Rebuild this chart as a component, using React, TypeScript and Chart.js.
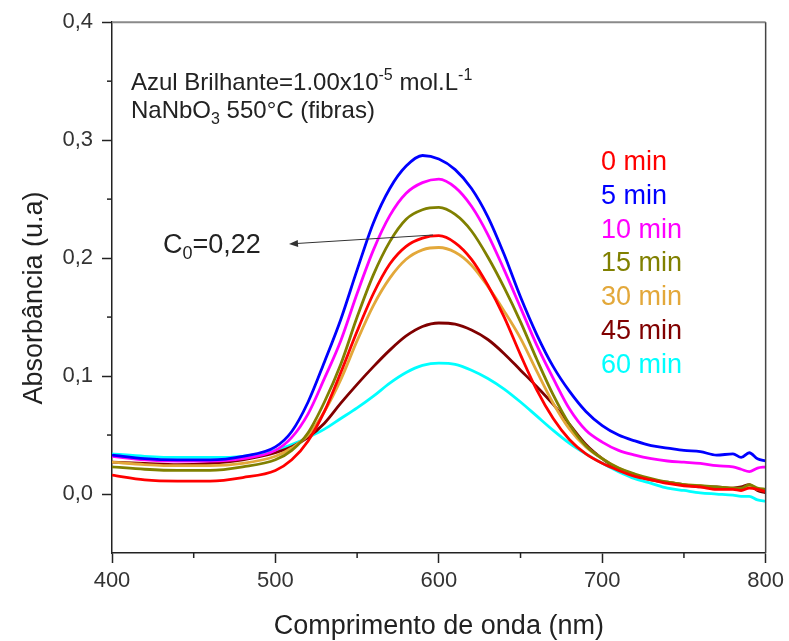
import React, { useEffect, useRef } from 'react';
import { Chart, registerables } from 'chart.js';

Chart.register(...registerables);

const wavelengths = [400, 420, 440, 460, 480, 500, 510, 520, 530, 540, 550, 560, 570, 580, 590, 600, 610, 620, 630, 640, 650, 660, 670, 680, 690, 700, 710, 720, 730, 740, 750, 760, 770, 780, 785, 790, 795, 800];

const min0 = [0.016, 0.012, 0.011, 0.011, 0.014, 0.020, 0.029, 0.045, 0.070, 0.103, 0.138, 0.170, 0.195, 0.210, 0.217, 0.219, 0.213, 0.199, 0.177, 0.150, 0.118, 0.088, 0.064, 0.046, 0.034, 0.026, 0.020, 0.015, 0.012, 0.009, 0.007, 0.006, 0.004, 0.004, 0.003, 0.005, 0.004, 0.002];
const min5 = [0.033, 0.030, 0.029, 0.029, 0.032, 0.040, 0.053, 0.078, 0.112, 0.148, 0.190, 0.230, 0.259, 0.278, 0.287, 0.284, 0.275, 0.259, 0.235, 0.203, 0.167, 0.135, 0.108, 0.087, 0.070, 0.058, 0.050, 0.045, 0.041, 0.039, 0.037, 0.036, 0.033, 0.034, 0.031, 0.035, 0.030, 0.028];
const min10 = [0.032, 0.029, 0.028, 0.028, 0.030, 0.037, 0.048, 0.068, 0.098, 0.130, 0.170, 0.207, 0.236, 0.255, 0.264, 0.267, 0.260, 0.244, 0.220, 0.190, 0.158, 0.126, 0.098, 0.072, 0.054, 0.044, 0.037, 0.033, 0.030, 0.028, 0.027, 0.026, 0.024, 0.023, 0.021, 0.019, 0.022, 0.023];
const min15 = [0.023, 0.021, 0.020, 0.020, 0.023, 0.029, 0.037, 0.052, 0.078, 0.110, 0.150, 0.186, 0.214, 0.233, 0.241, 0.243, 0.237, 0.223, 0.201, 0.175, 0.146, 0.114, 0.084, 0.059, 0.041, 0.030, 0.022, 0.017, 0.013, 0.010, 0.008, 0.007, 0.006, 0.005, 0.005, 0.008, 0.005, 0.004];
const min30 = [0.027, 0.025, 0.024, 0.024, 0.026, 0.032, 0.039, 0.050, 0.070, 0.097, 0.130, 0.160, 0.183, 0.199, 0.207, 0.209, 0.205, 0.194, 0.176, 0.155, 0.132, 0.104, 0.077, 0.055, 0.040, 0.030, 0.022, 0.016, 0.012, 0.010, 0.008, 0.007, 0.005, 0.005, 0.004, 0.006, 0.004, 0.003];
const min45 = [0.027, 0.026, 0.025, 0.026, 0.029, 0.035, 0.040, 0.048, 0.060, 0.077, 0.093, 0.108, 0.122, 0.134, 0.142, 0.145, 0.144, 0.139, 0.131, 0.119, 0.105, 0.091, 0.076, 0.059, 0.042, 0.030, 0.021, 0.016, 0.012, 0.010, 0.008, 0.006, 0.006, 0.005, 0.006, 0.008, 0.003, 0.001];
const min60 = [0.034, 0.032, 0.031, 0.031, 0.032, 0.037, 0.042, 0.048, 0.055, 0.064, 0.073, 0.083, 0.094, 0.103, 0.109, 0.111, 0.110, 0.105, 0.098, 0.089, 0.078, 0.066, 0.054, 0.043, 0.034, 0.026, 0.019, 0.013, 0.009, 0.005, 0.003, 0.001, 0.000, -0.001, -0.002, -0.002, -0.005, -0.006];

const seriesLabels = ['0 min', '5 min', '10 min', '15 min', '30 min', '45 min', '60 min'];
const seriesValues = [min0, min5, min10, min15, min30, min45, min60];
const seriesColors = ['#ff0000', '#0000ff', '#ff00ff', '#808000', '#e3a83a', '#800000', '#00ffff'];

const xTitle = 'Comprimento de onda (nm)';
const yTitle = 'Absorbância (u.a)';

const FONT = '"Liberation Sans", Arial, sans-serif';

type Part = { t: string; size: number; dy?: number };

function drawRich(ctx: CanvasRenderingContext2D, x: number, y: number, parts: Part[], color: string) {
  ctx.save();
  ctx.fillStyle = color;
  ctx.textAlign = 'left';
  ctx.textBaseline = 'alphabetic';
  let cx = x;
  for (const p of parts) {
    ctx.font = `${p.size}px ${FONT}`;
    ctx.fillText(p.t, cx, y + (p.dy || 0));
    cx += ctx.measureText(p.t).width;
  }
  ctx.restore();
}

const overlayPlugin = {
  id: 'overlay',
  afterDraw(chart: any) {
    const ctx: CanvasRenderingContext2D = chart.ctx;
    const { left, right, top, bottom } = chart.chartArea;
    const xs = chart.scales.x;
    const ys = chart.scales.y;
    ctx.save();
    // frame: top and right
    ctx.strokeStyle = '#8a8a8a';
    ctx.lineWidth = 2;
    ctx.beginPath();
    ctx.moveTo(left, top);
    ctx.lineTo(right, top);
    ctx.stroke();
    ctx.strokeStyle = '#444';
    ctx.lineWidth = 1.5;
    ctx.beginPath();
    ctx.moveTo(right, top);
    ctx.lineTo(right, bottom);
    ctx.stroke();
    // minor ticks
    ctx.strokeStyle = '#222';
    ctx.lineWidth = 1.5;
    for (const v of [450, 550, 650, 750]) {
      const px = xs.getPixelForValue(v);
      ctx.beginPath();
      ctx.moveTo(px, bottom);
      ctx.lineTo(px, bottom + 5);
      ctx.stroke();
    }
    for (const v of [0.05, 0.15, 0.25, 0.35]) {
      const py = ys.getPixelForValue(v);
      ctx.beginPath();
      ctx.moveTo(left, py);
      ctx.lineTo(left - 5, py);
      ctx.stroke();
    }
    // axis titles
    ctx.fillStyle = '#222';
    ctx.font = `27px ${FONT}`;
    ctx.textAlign = 'center';
    ctx.textBaseline = 'alphabetic';
    ctx.fillText(xTitle, (left + right) / 2, 634);
    ctx.save();
    ctx.translate(42, 298);
    ctx.rotate(-Math.PI / 2);
    ctx.fillText(yTitle, 0, 0);
    ctx.restore();
    ctx.restore();

    // annotations
    drawRich(ctx, 131, 90, [
      { t: 'Azul Brilhante=1.00x10', size: 24 },
      { t: '-5', size: 16, dy: -10 },
      { t: ' mol.L', size: 24 },
      { t: '-1', size: 16, dy: -10 },
    ], '#222');
    drawRich(ctx, 131, 118, [
      { t: 'NaNbO', size: 24 },
      { t: '3', size: 16, dy: 6 },
      { t: ' 550°C (fibras)', size: 24 },
    ], '#222');
    drawRich(ctx, 163, 253, [
      { t: 'C', size: 27 },
      { t: '0', size: 18, dy: 6 },
      { t: '=0,22', size: 27 },
    ], '#222');

    // arrow
    ctx.save();
    ctx.strokeStyle = '#333';
    ctx.fillStyle = '#333';
    ctx.lineWidth = 1;
    const x1 = 433, y1 = 235, x2 = 289, y2 = 244;
    ctx.beginPath();
    ctx.moveTo(x1, y1);
    ctx.lineTo(x2 + 6, y2 - 0.4);
    ctx.stroke();
    const ang = Math.atan2(y2 - y1, x2 - x1);
    const hl = 9, hw = 3.5;
    ctx.beginPath();
    ctx.moveTo(x2, y2);
    ctx.lineTo(x2 - hl * Math.cos(ang) - hw * Math.sin(ang), y2 - hl * Math.sin(ang) + hw * Math.cos(ang));
    ctx.lineTo(x2 - hl * Math.cos(ang) + hw * Math.sin(ang), y2 - hl * Math.sin(ang) - hw * Math.cos(ang));
    ctx.closePath();
    ctx.fill();
    ctx.restore();

    // legend texts
    ctx.save();
    ctx.font = `27px ${FONT}`;
    ctx.textAlign = 'left';
    ctx.textBaseline = 'alphabetic';
    seriesLabels.forEach((lab, i) => {
      ctx.fillStyle = seriesColors[i];
      ctx.fillText(lab, 601, 170 + i * 33.8);
    });
    ctx.restore();
  },
};

export default function App() {
  const ref = useRef<HTMLCanvasElement | null>(null);
  useEffect(() => {
    document.body.style.margin = '0';
    const canvas = ref.current;
    if (!canvas) return;
    const datasets = seriesValues.map((vals, i) => ({
      label: seriesLabels[i],
      data: wavelengths.map((w, j) => ({ x: w, y: vals[j] })),
      borderColor: seriesColors[i],
      backgroundColor: seriesColors[i],
      borderWidth: 2.8,
      pointRadius: 0,
      cubicInterpolationMode: 'monotone' as const,
      fill: false,
    }));
    const chart = new Chart(canvas, {
      type: 'line',
      data: { datasets },
      options: {
        responsive: false,
        animation: false,
        devicePixelRatio: 1,
        layout: { padding: { top: 21, right: 21, left: 0, bottom: 0 } },
        plugins: { legend: { display: false }, tooltip: { enabled: false } },
        scales: {
          x: {
            type: 'linear',
            min: 400,
            max: 800,
            afterFit: (s: any) => { s.height = 88; },
            ticks: {
              stepSize: 50,
              autoSkip: false,
              maxRotation: 0,
              padding: 5,
              color: '#333',
              font: { family: FONT, size: 22 },
              callback: (v: any) => (Math.round(v) % 100 === 0 ? String(Math.round(v)) : ''),
            },
            grid: {
              drawOnChartArea: false,
              drawTicks: true,
              tickLength: 10,
              tickWidth: 1.5,
              tickColor: (c: any) => (c.tick && Math.round(c.tick.value) % 100 === 0 ? '#222' : 'rgba(0,0,0,0)'),
            },
            border: { color: '#222', width: 1.5 },
          },
          y: {
            min: -0.05,
            max: 0.4,
            afterFit: (s: any) => { s.width = 112; },
            ticks: {
              stepSize: 0.05,
              autoSkip: false,
              padding: 9,
              color: '#333',
              font: { family: FONT, size: 22 },
              callback: (v: any) => {
                const r = Math.round(v * 100);
                if (r % 10 !== 0 || r < 0) return '';
                return (r / 100).toFixed(1).replace('.', ',');
              },
            },
            grid: {
              drawOnChartArea: false,
              drawTicks: true,
              tickLength: 10,
              tickWidth: 1.5,
              tickColor: (c: any) => {
                if (!c.tick) return 'rgba(0,0,0,0)';
                const r = Math.round(c.tick.value * 100);
                return r % 10 === 0 && r >= 0 ? '#222' : 'rgba(0,0,0,0)';
              },
            },
            border: { color: '#222', width: 1.5 },
          },
        },
      },
      plugins: [overlayPlugin],
    });
    return () => chart.destroy();
  }, []);
  return (
    <div style={{ width: 789, height: 641 }}>
      <canvas ref={ref} width={789} height={641} style={{ display: 'block' }} />
    </div>
  );
}
